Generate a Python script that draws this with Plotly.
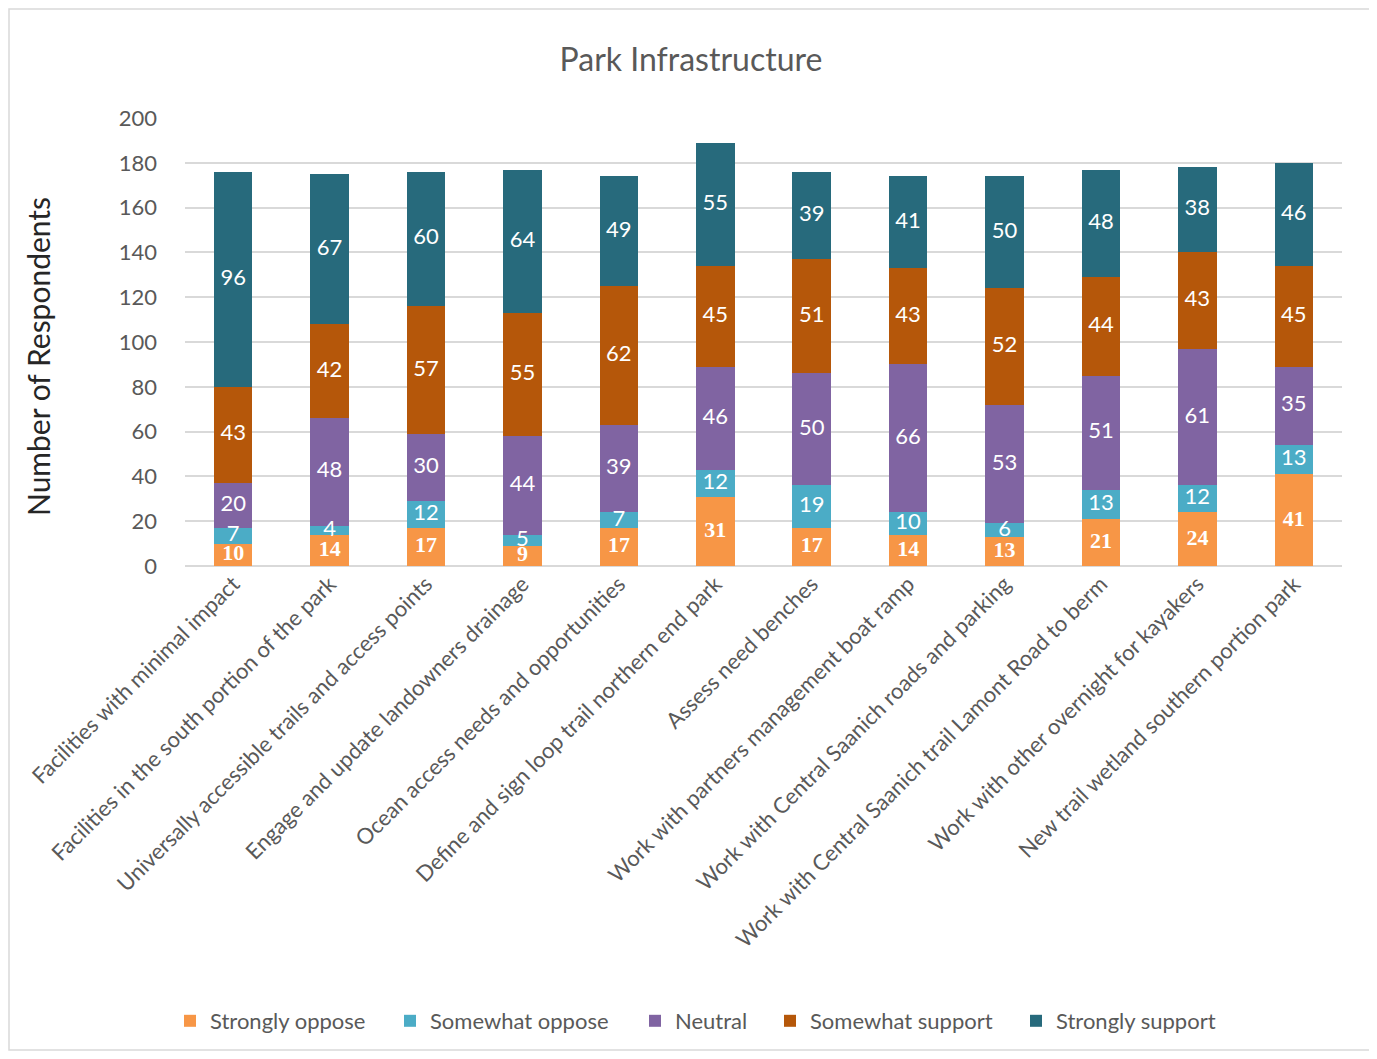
import plotly.graph_objects as go

categories = [
    "Facilities with minimal impact",
    "Facilities in the south portion of the park",
    "Universally accessible trails and access points",
    "Engage and update landowners drainage",
    "Ocean access needs and opportunities",
    "Define and sign loop trail northern end park",
    "Assess need benches",
    "Work with partners management boat ramp",
    "Work with Central Saanich roads and parking",
    "Work with Central Saanich trail Lamont Road to berm",
    "Work with other overnight for kayakers",
    "New trail wetland southern portion park",
]
strongly_oppose = [10, 14, 17, 9, 17, 31, 17, 14, 13, 21, 24, 41]
somewhat_oppose = [7, 4, 12, 5, 7, 12, 19, 10, 6, 13, 12, 13]
neutral = [20, 48, 30, 44, 39, 46, 50, 66, 53, 51, 61, 35]
somewhat_support = [43, 42, 57, 55, 62, 45, 51, 43, 52, 44, 43, 45]
strongly_support = [96, 67, 60, 64, 49, 55, 39, 41, 50, 48, 38, 46]

series = [
    ("Strongly oppose", strongly_oppose, "#F79646"),
    ("Somewhat oppose", somewhat_oppose, "#4BACC6"),
    ("Neutral", neutral, "#8064A2"),
    ("Somewhat support", somewhat_support, "#B5570A"),
    ("Strongly support", strongly_support, "#276A7C"),
]

FONT = "Lato"

# page has an 8px body margin; figure coordinates = reference pixels - 8
OFF = 8
W, H = 1377 - 2 * OFF, 1059 - 2 * OFF
L = 185 - OFF
R = W - (1342 - OFF)
T = 118 - OFF
B = H - (566 - OFF)
pw, ph = W - L - R, H - T - B

def px2x(px):
    return (px - OFF - L) / pw

def py2y(py):
    return (H - B - (py - OFF)) / ph

legend_left_px = [182, 402, 647, 782, 1028]
legend_names = ["legend", "legend2", "legend3", "legend4", "legend5"]

fig = go.Figure()
base = [0] * len(categories)
for i, (name, vals, color) in enumerate(series):
    fig.add_trace(go.Bar(
        x=categories, y=vals, name=name, marker=dict(color=color, line=dict(width=0)),
        hoverinfo="y+name", legend=legend_names[i],
    ))
    mids = [b + v / 2 for b, v in zip(base, vals)]
    if name == "Strongly oppose":
        tfont = dict(family="Liberation Serif", size=22, color="white", weight="bold")
    else:
        tfont = dict(family=FONT, size=22, color="white")
    fig.add_trace(go.Scatter(
        x=categories, y=mids, mode="text", text=[str(v) for v in vals],
        textfont=tfont, textposition="middle center", showlegend=False, hoverinfo="skip",
    ))
    base = [b + v for b, v in zip(base, vals)]

fig.add_shape(type="rect", xref="paper", yref="paper",
              x0=px2x(9), x1=px2x(1370), y0=py2y(1050), y1=py2y(9),
              line=dict(color="#D9D9D9", width=1.5), fillcolor="rgba(0,0,0,0)", layer="below")

fig.add_annotation(text="Number of Respondents", textangle=-90, xref="paper", yref="paper",
                   x=px2x(38), y=py2y(357), xanchor="center", yanchor="middle", showarrow=False,
                   font=dict(family=FONT, size=30, color="#262626"))

legend_layout = {}
for i, ln in enumerate(legend_names):
    legend_layout[ln] = dict(
        orientation="h", x=px2x(legend_left_px[i] - 12), xanchor="left", xref="paper",
        y=py2y(1021), yanchor="middle", yref="paper",
        font=dict(family=FONT, size=22, color="#595959"), itemwidth=30,
        bgcolor="rgba(0,0,0,0)",
    )

fig.update_layout(
    width=W, height=H,
    margin=dict(l=L, r=R, t=T, b=B, autoexpand=False),
    barmode="stack",
    bargap=0.6,
    plot_bgcolor="white", paper_bgcolor="white",
    font=dict(family=FONT, color="#595959"),
    title=dict(text="Park Infrastructure", x=(691 - OFF) / W, xref="container", xanchor="center",
               y=1 - (60 - OFF) / H, yref="container", yanchor="middle",
               font=dict(family=FONT, size=32, color="#595959")),
    xaxis=dict(tickangle=-45, tickfont=dict(family=FONT, size=22, color="#595959"),
               range=[-0.5, len(categories) - 0.5],
               showline=False, showgrid=False, ticks="", automargin=False),
    yaxis=dict(range=[0, 200], dtick=20, showgrid=True, gridcolor="#D9D9D9", gridwidth=2,
               zeroline=True, zerolinecolor="#D9D9D9", zerolinewidth=2,
               tickfont=dict(family=FONT, size=22, color="#595959"), ticks="",
               ticklabelstandoff=27, automargin=False),
    **legend_layout,
)

fig.write_html("out.html")
